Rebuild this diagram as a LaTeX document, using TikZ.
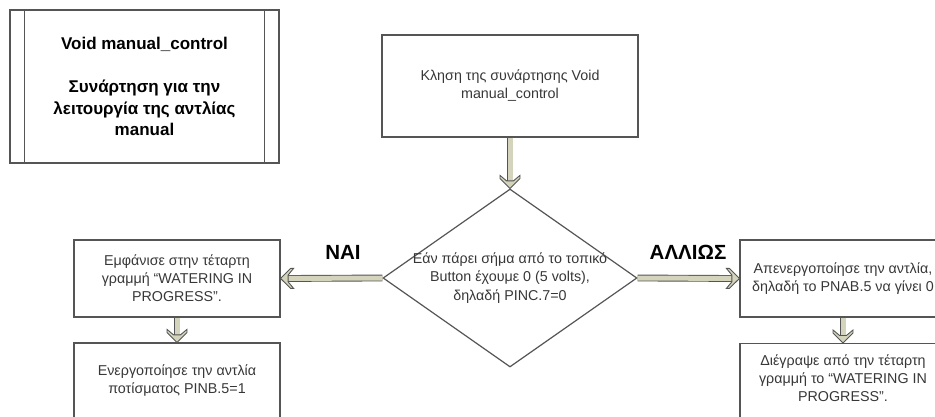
\documentclass[tikz,border=0pt]{standalone}
\usepackage{fontspec}
\setmainfont{Liberation Sans}
\usetikzlibrary{shapes.geometric,calc,decorations.markings}
\definecolor{arrowfill}{RGB}{212,212,188}
\definecolor{linegray}{RGB}{85,85,85}
\definecolor{textgray}{RGB}{55,55,55}

\begin{document}
\begin{tikzpicture}[x=1pt,y=-1pt,
  outline/.style={draw=linegray, line width=1.2pt},
  stepbox/.style={outline, rectangle, minimum width=206pt, inner sep=0pt,
    align=center, text=textgray, font=\fontsize{14.3}{18}\selectfont},
  procbox/.style={outline, rectangle, inner sep=0pt, align=center,
    font=\bfseries\fontsize{17}{21.5}\selectfont},
  decision/.style={outline, diamond, inner sep=0pt},
  plain/.style={inner sep=0pt, align=center, text=textgray,
    font=\fontsize{14.3}{18.5}\selectfont},
  branch/.style={inner sep=0pt, font=\bfseries\fontsize{20.5}{24}\selectfont},
  % chevron head of the hollow block arrows
  fathead/.pic={
    \filldraw[draw=linegray, fill=arrowfill, line width=0.9pt, line join=miter]
      (0,0) -- (-10,10) -- (-13,10) -- (-7.5,3.4) -- (-7.5,-3.4)
      -- (-13,-10) -- (-10,-10) -- cycle;},
  fat/.style={draw=linegray, line width=0.9pt, double=arrowfill,
    double distance=5pt, shorten >=7pt,
    postaction={decorate, decoration={markings,
      mark=at position 1 with {\pic[transform shape]{fathead};}}}}
]
\useasboundingbox (0,0) rectangle (935,417);

% function description (predefined process)
\node[procbox, minimum width=269pt, minimum height=153pt] (fn) at (144.5,86.5)
  {Void manual\_control\\[21.5pt]Συνάρτηση για την\\λειτουργία της αντλίας\\manual};
\draw[outline] ($(fn.north west)+(15,0)$) -- ($(fn.south west)+(15,0)$);
\draw[outline] ($(fn.north east)+(-15,0)$) -- ($(fn.south east)+(-15,0)$);

% call
\node[stepbox, minimum width=256pt, minimum height=102pt] (call) at (510,86)
  {Κληση της συνάρτησης Void\\manual\_control};

% decision
\node[decision, minimum width=254pt, minimum height=178pt] (dia) at (510,278) {};
\node[plain] (dtx) at (dia.center)
  {Εάν πάρει σήμα από το τοπικό\\Button έχουμε 0 (5 volts),\\δηλαδή PINC.7=0};

% yes branch
\node[stepbox, minimum height=77pt] (yes1) at (177,278.5)
  {Εμφάνισε στην τέταρτη\\γραμμή “WATERING IN\\PROGRESS”.};
\node[stepbox, minimum height=75pt] (yes2) at (177,380.5)
  {Ενεργοποίησε την αντλία\\ποτίσματος PINB.5=1};

% otherwise branch
\node[stepbox, minimum height=77pt] (no1) at (843,278.5)
  {Απενεργοποίησε την αντλία,\\δηλαδή το PNAB.5 να γίνει 0};
\node[stepbox, anchor=north, minimum height=90pt] (no2) at (843,343) {};
\node[plain, font=\fontsize{14.3}{18}\selectfont] (no2t) at (843,378)
  {Διέγραψε από την τέταρτη\\γραμμή το “WATERING IN\\PROGRESS”.};

% branch labels
\node[branch] (yes) at (343,252) {ΝΑΙ};
\node[branch] (else) at (688,252) {ΑΛΛΙΩΣ};

% connectors
\draw[fat] (call.south) -- (dia.north);
\draw[fat] (dia.west) -- (yes1.east);
\draw[fat] (dia.east) -- (no1.west);
\draw[fat] (yes1.south) -- (yes2.north);
\draw[fat] (no1.south) -- (no2.north);
\end{tikzpicture}
\end{document}
